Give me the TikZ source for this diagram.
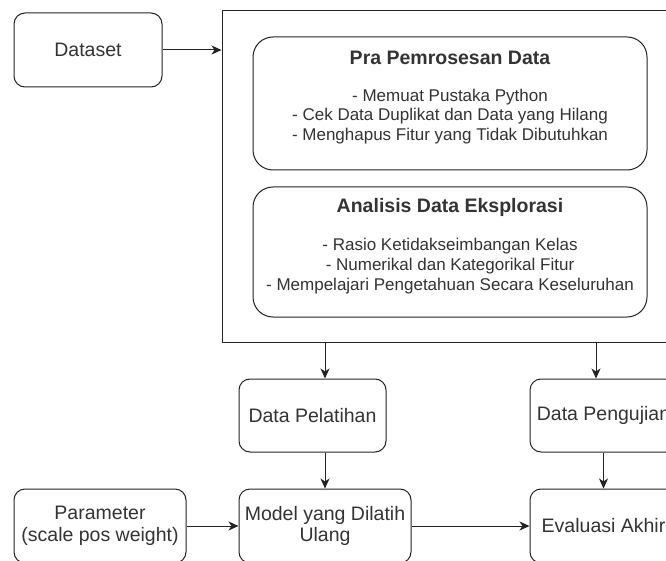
\documentclass[tikz,border=0pt]{standalone}
\usepackage{fontspec}
\setmainfont{Liberation Sans}
\usetikzlibrary{arrows.meta}
\definecolor{txt}{HTML}{333333}
\definecolor{ln}{HTML}{222222}
\begin{document}
\begin{tikzpicture}[x=1pt,y=-1pt,
  box/.style={draw=ln, line width=1pt, rounded corners=11pt, text=txt, align=center,
    font=\fontsize{19.5}{21.6}\selectfont, inner sep=0pt},
  bigbox/.style={draw=ln, line width=1pt, rounded corners=20pt, inner sep=0pt,
    minimum width=394pt},
  ttl/.style={text=txt, font=\bfseries\fontsize{19.5}{22}\selectfont, inner sep=0pt},
  bodytxt/.style={text=txt, align=center, font=\fontsize{17}{19.7}\selectfont, inner sep=0pt},
  arr/.style={draw=ln, line width=1pt, -{Stealth[length=10pt,width=9pt,inset=3pt]}}]
\clip (0,0) rectangle (666,561);
\fill[white] (0,0) rectangle (666,561);
% top-left input
\node[box, minimum width=148pt, minimum height=74pt] (dataset) at (88,50) {Dataset};
% container
\node[draw=ln, line width=1pt, inner sep=0pt, minimum width=760pt, minimum height=331.5pt] (cont) at (602,176.25) {};
% preprocessing
\node[bigbox, minimum height=133pt] (pra) at (450,103.5) {};
\node[ttl] (pratitle) at (450,57.5) {Pra Pemrosesan Data};
\node[bodytxt] (prabody) at (450,116.5) {- Memuat Pustaka Python\\- Cek Data Duplikat dan Data yang Hilang\\- Menghapus Fitur yang Tidak Dibutuhkan};
% EDA
\node[bigbox, minimum height=130pt] (eda) at (450,252) {};
\node[ttl] (edatitle) at (450,207) {Analisis Data Eksplorasi};
\node[bodytxt] (edabody) at (450,266) {- Rasio Ketidakseimbangan Kelas\\- Numerikal dan Kategorikal Fitur\\- Mempelajari Pengetahuan Secara Keseluruhan};
% data split
\node[box, minimum width=147pt, minimum height=73pt] (pel) at (312.5,415.5) {Data Pelatihan};
\node[box, minimum width=147pt, minimum height=73pt] (uji) at (603.5,415.5) {Data Pengujian};
% bottom row
\node[box, minimum width=172pt, minimum height=74pt] (param) at (100,526) {Parameter\\(scale pos weight)};
\node[box, minimum width=172pt, minimum height=74pt] (model) at (325,526) {Model yang Dilatih\\Ulang};
\node[box, minimum width=147pt, minimum height=74pt] (eval) at (603.5,526) {Evaluasi Akhir};
\coordinate (splitR) at (596,342);
% connectors
\draw[arr] (dataset.east) -- (dataset.east -| cont.west);
\draw[arr] (cont.south -| model.north) -- (model.north |- pel.north);
\draw[arr] (splitR) -- (splitR |- uji.north);
\draw[arr] (model.north |- pel.south) -- (model.north);
\draw[arr] (uji.south) -- (eval.north);
\draw[arr] (param.east) -- (model.west);
\draw[arr] (model.east) -- (eval.west);
\end{tikzpicture}
\end{document}
